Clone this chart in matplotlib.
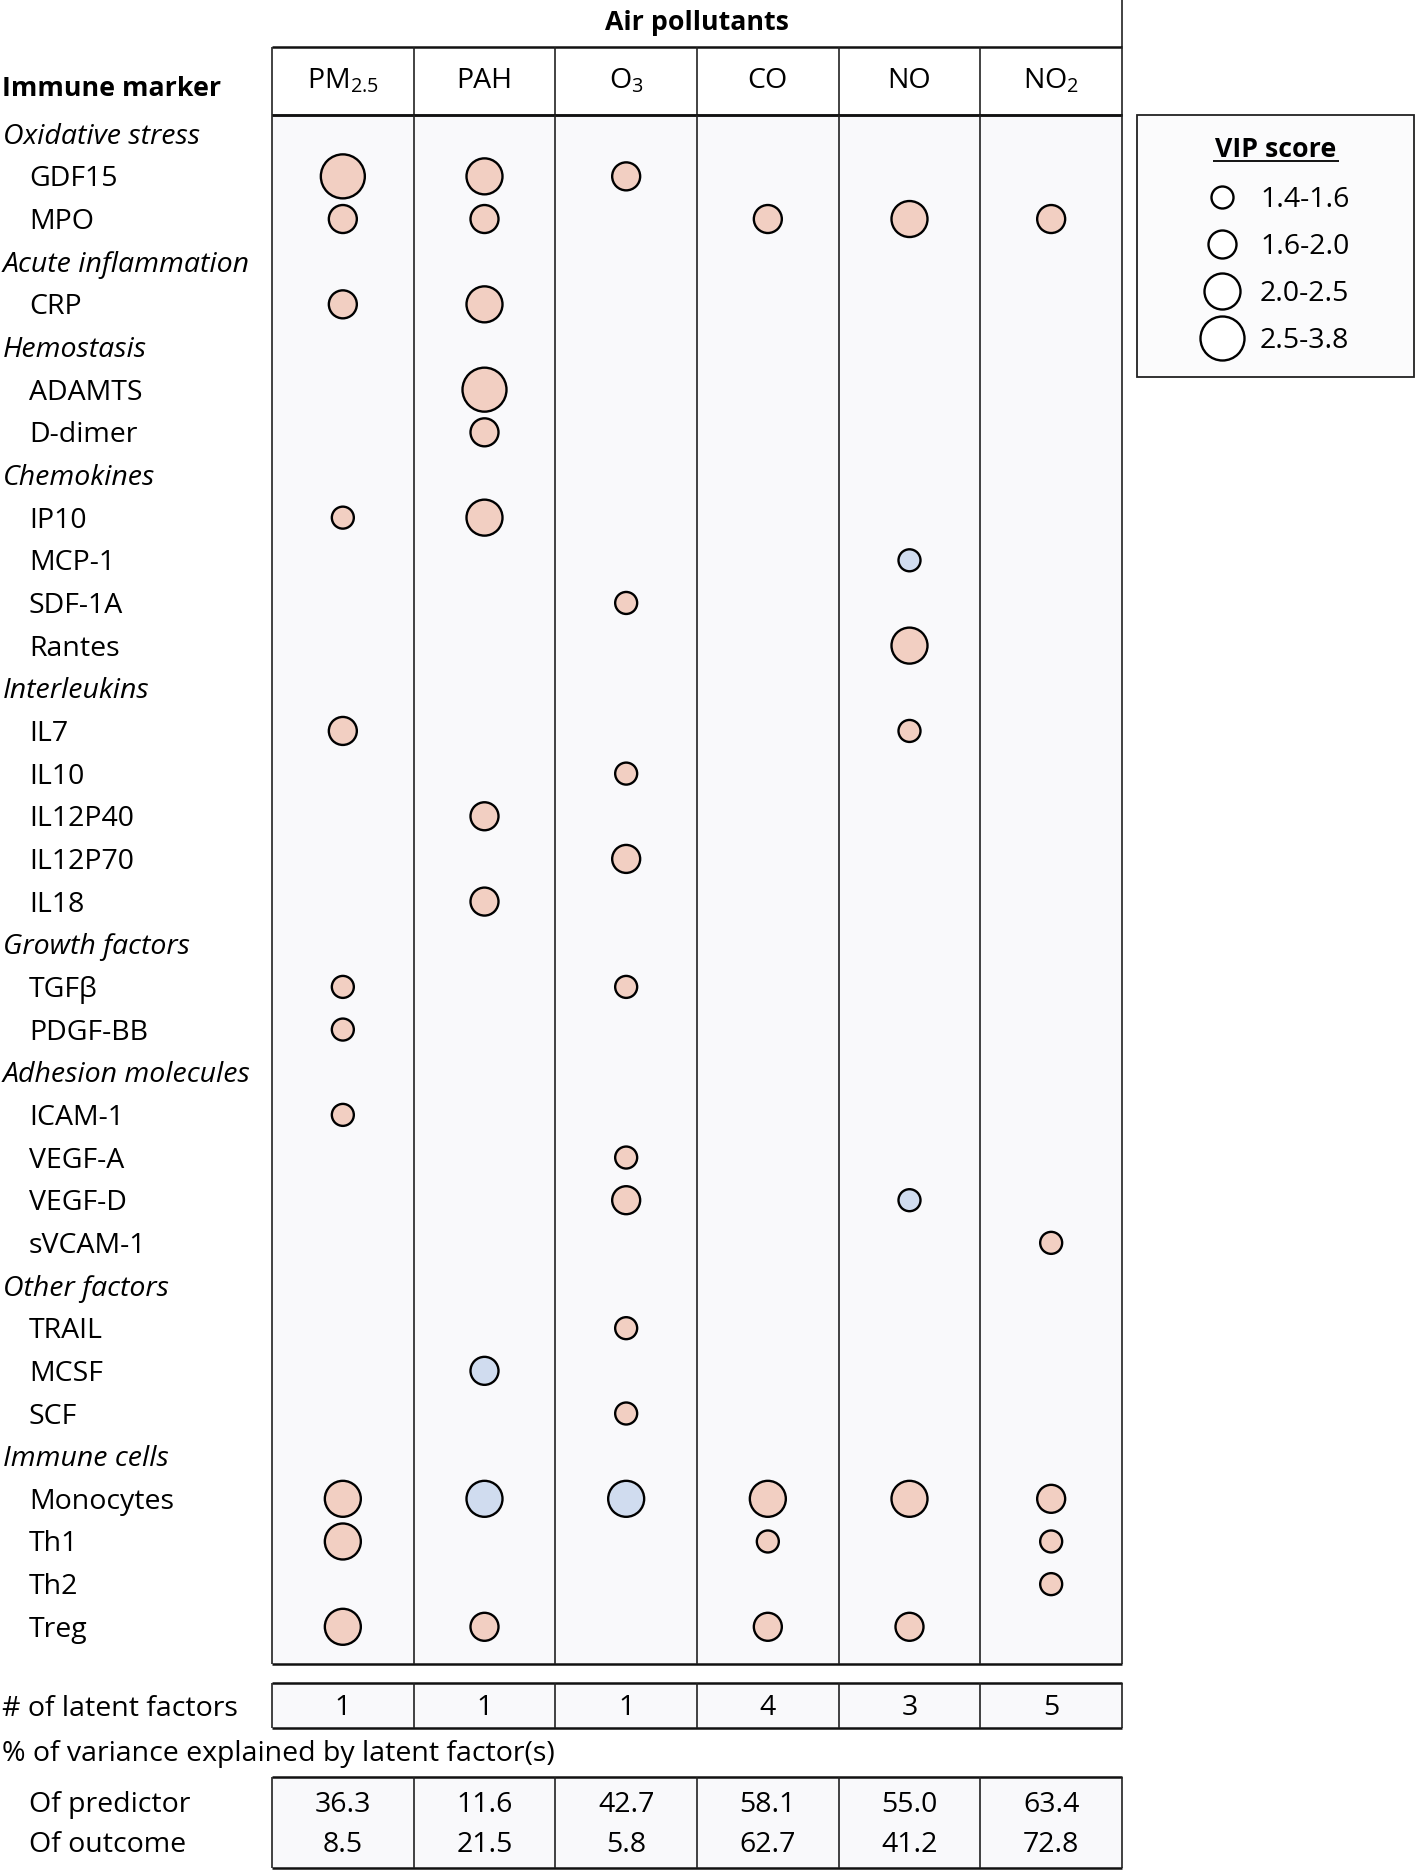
import numpy as np
import matplotlib
matplotlib.use('Agg')
import matplotlib.pyplot as plt
from matplotlib.patches import Rectangle

plt.rcParams['font.family'] = ['Open Sans', 'DejaVu Sans']
plt.rcParams['mathtext.fontset'] = 'custom'
plt.rcParams['mathtext.rm'] = 'Open Sans'

# ---- data ----
pollutants = ['PM$_{\\mathrm{2.5}}$', 'PAH', 'O$_{\\mathrm{3}}$', 'CO', 'NO', 'NO$_{\\mathrm{2}}$']
groups = ['Oxidative stress', 'Acute inflammation', 'Hemostasis', 'Chemokines', 'Interleukins',
          'Growth factors', 'Adhesion molecules', 'Other factors', 'Immune cells']
markers = [['GDF15', 'MPO'], ['CRP'], ['ADAMTS', 'D-dimer'], ['IP10', 'MCP-1', 'SDF-1A', 'Rantes'],
           ['IL7', 'IL10', 'IL12P40', 'IL12P70', 'IL18'], ['TGFβ', 'PDGF-BB'],
           ['ICAM-1', 'VEGF-A', 'VEGF-D', 'sVCAM-1'], ['TRAIL', 'MCSF', 'SCF'],
           ['Monocytes', 'Th1', 'Th2', 'Treg']]

# VIP class per marker (order as in markers, flattened): 0 = none, 1..4 = legend bins,
# negative = inverse association (blue)
vip_pm25 = [4, 2, 2, 0, 0, 1, 0, 0, 0, 2, 0, 0, 0, 0, 1, 1, 1, 0, 0, 0, 0, 0, 0, 3, 3, 0, 3]
vip_pah  = [3, 2, 3, 4, 2, 3, 0, 0, 0, 0, 0, 2, 0, 2, 0, 0, 0, 0, 0, 0, 0, -2, 0, -3, 0, 0, 2]
vip_o3   = [2, 0, 0, 0, 0, 0, 0, 1, 0, 0, 1, 0, 2, 0, 1, 0, 0, 1, 2, 0, 1, 0, 1, -3, 0, 0, 0]
vip_co   = [0, 2, 0, 0, 0, 0, 0, 0, 0, 0, 0, 0, 0, 0, 0, 0, 0, 0, 0, 0, 0, 0, 0, 3, 1, 0, 2]
vip_no   = [0, 3, 0, 0, 0, 0, -1, 0, 3, 1, 0, 0, 0, 0, 0, 0, 0, 0, -1, 0, 0, 0, 0, 3, 0, 0, 2]
vip_no2  = [0, 2, 0, 0, 0, 0, 0, 0, 0, 0, 0, 0, 0, 0, 0, 0, 0, 0, 0, 1, 0, 0, 0, 2, 1, 1, 0]

vip_bins = ['1.4-1.6', '1.6-2.0', '2.0-2.5', '2.5-3.8']
latent_factors = [1, 1, 1, 4, 3, 5]
var_predictor = ['36.3', '11.6', '42.7', '58.1', '55.0', '63.4']
var_outcome = ['8.5', '21.5', '5.8', '62.7', '41.2', '72.8']

# ---- layout (pixels) ----
W, H, dpi = 1418, 1872, 100
left, right = 272, 1122
colw = (right - left) / 6
head_top, head_bot, body_bot = 46.5, 114.6, 1664
row0, rowstep = 133.7, 42.66
diam = {1: 22, 2: 28, 3: 36, 4: 44}
pink, blue = '#f2cfc2', '#d0dcef'
fs = 20.5     # regular text
fsb = 19.3    # bold text
dy = 10       # baseline offset so that text is centred on a row (half cap height)

fig = plt.figure(figsize=(W / dpi, H / dpi), dpi=dpi)
ax = fig.add_axes([0, 0, 1, 1])
ax.set_xlim(0, W)
ax.set_ylim(H, 0)
ax.axis('off')

def box(y1, y2, fc):
  ax.add_patch(Rectangle((left, y1), right - left, y2 - y1, facecolor=fc, edgecolor='none', zorder=0))
  ax.hlines([y1, y2], left, right, color='#111111', lw=1.8, zorder=3)
  ax.vlines([left + k * colw for k in range(7)], y1, y2, color='#222222', lw=1.2, zorder=3)

def txt(x, y, s, **kw):
  kw.setdefault('fontsize', fs)
  ax.text(x, y + dy, s, va='baseline', **kw)

# main table
box(head_top, head_bot, 'white')
box(head_bot, body_bot, '#f9f9fb')
ax.vlines(right, 0, head_top, color='#222222', lw=1.2)
txt((left + right) / 2, 20, 'Air pollutants', fontsize=fsb, fontweight='bold', ha='center')
txt(2, 86, 'Immune marker', fontsize=fsb, fontweight='bold', ha='left')
for k, p in enumerate(pollutants):
  txt(left + (k + 0.5) * colw, 78, p, ha='center')

# row labels
rows = []
for g, ms in zip(groups, markers):
  rows.append((g, True))
  rows += [(m, False) for m in ms]
marker_y = []
for i, (lab, is_group) in enumerate(rows):
  y = row0 + i * rowstep
  if is_group:
    txt(3, y, lab, style='italic', ha='left')
  else:
    txt(29, y, lab, ha='left')
    marker_y.append(y)
marker_y = np.array(marker_y)

# bubbles
for k, vals in enumerate([vip_pm25, vip_pah, vip_o3, vip_co, vip_no, vip_no2]):
  vals = np.array(vals)
  idx = np.nonzero(vals)[0]
  x = np.full(len(idx), left + (k + 0.5) * colw)
  s = [(diam[abs(v)] * 72 / dpi) ** 2 for v in vals[idx]]
  c = [pink if v > 0 else blue for v in vals[idx]]
  ax.scatter(x, marker_y[idx], s=s, c=c, edgecolors='black', linewidths=1.7, zorder=4)

# legend
ax.add_patch(Rectangle((1137, 115), 277, 262, facecolor='#fbfbfc', edgecolor='#222222', lw=1.3, zorder=1))
txt(1276, 147, 'VIP score', fontsize=fsb, fontweight='bold', ha='center')
ax.hlines(161, 1213, 1339, color='black', lw=1.3)
for j, lab in enumerate(vip_bins):
  y = 197 + j * 47
  ax.scatter([1222], [y], s=(diam[j + 1] * 72 / dpi) ** 2, facecolors='white', edgecolors='black', linewidths=1.7, zorder=4)
  txt(1260, y, lab, ha='left')

# latent factors
box(1683, 1728, '#f9f9fb')
txt(2, 1706, '# of latent factors', ha='left')
for k, v in enumerate(latent_factors):
  txt(left + (k + 0.5) * colw, 1705, str(v), ha='center')

txt(2, 1751, '% of variance explained by latent factor(s)', ha='left')
box(1777, 1868, '#f9f9fb')
txt(29, 1802, 'Of predictor', ha='left')
txt(29, 1842, 'Of outcome', ha='left')
for k in range(6):
  txt(left + (k + 0.5) * colw, 1802, var_predictor[k], ha='center')
  txt(left + (k + 0.5) * colw, 1842, var_outcome[k], ha='center')

fig.savefig('out.png', dpi=dpi)
